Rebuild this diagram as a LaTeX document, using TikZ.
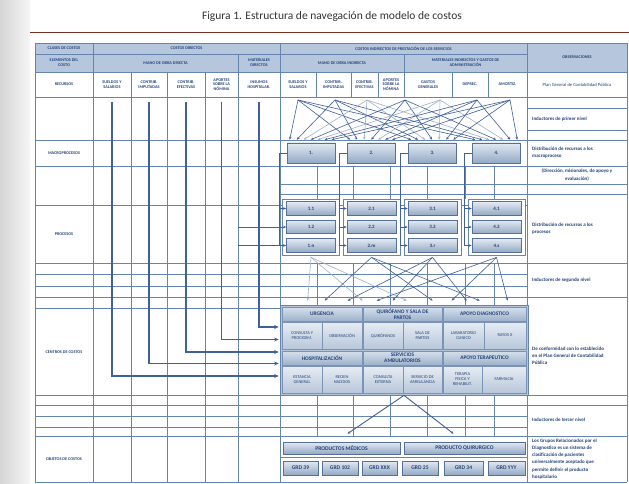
\documentclass[tikz,border=0pt]{standalone}
\usepackage{fontspec}
\setmainfont{Carlito}
\usetikzlibrary{positioning,calc,arrows.meta}

\definecolor{gridc}{HTML}{6485B0}
\definecolor{hdrc}{HTML}{B6C7DD}
\definecolor{txtc}{HTML}{23437A}
\definecolor{linec}{HTML}{3F6098}
\definecolor{lightc}{HTML}{9FB1CB}
\definecolor{boxtop}{HTML}{E2E9F2}
\definecolor{boxbot}{HTML}{93A9C4}
\definecolor{boxdraw}{HTML}{56709A}
\definecolor{framec}{HTML}{B3C4DA}
\definecolor{cellline}{HTML}{7A93B7}
\definecolor{chtop}{HTML}{D7E0EC}
\definecolor{chbot}{HTML}{9DB1CA}
\definecolor{cstop}{HTML}{E6ECF3}
\definecolor{csbot}{HTML}{B8C7DA}
\definecolor{redc}{HTML}{7A2E22}

\newcommand{\hdrfont}{\fontsize{4.2}{4.8}\selectfont\bfseries}
\newcommand{\obsfont}{\fontsize{5}{7.2}\selectfont\bfseries}
\newcommand{\boxfont}{\fontsize{5}{6}\selectfont\bfseries}
\newcommand{\cheadfont}{\fontsize{5.4}{5.6}\selectfont\bfseries}
\newcommand{\csubfont}{\fontsize{4.4}{5}\selectfont}
\newcommand{\objfont}{\fontsize{5.6}{6}\selectfont\bfseries}

\begin{document}
\begin{tikzpicture}[x=1pt, y=-1pt,
  grid/.style={draw=gridc, line width=0.75pt},
  hdrcell/.style={font=\hdrfont, text=txtc, align=center, inner sep=0pt},
  obstext/.style={font=\obsfont, text=txtc, align=left, anchor=west, inner sep=0pt},
  macrobox/.style={draw=boxdraw, line width=0.6pt, top color=boxtop, bottom color=boxbot,
    minimum width=48pt, minimum height=20pt, inner sep=0pt, font=\boxfont, text=txtc},
  procbox/.style={macrobox, minimum width=49pt, minimum height=13.5pt},
  gframe/.style={draw=gridc, fill=white, line width=0.75pt, minimum width=57pt,
    minimum height=56pt, inner sep=0pt},
  fanline/.style={draw=linec, line width=0.6pt, -{Stealth[length=3pt,width=2.6pt]}},
  resline/.style={draw=linec, line width=1.2pt, -{Stealth[length=4.5pt,width=4pt]}},
  con/.style={draw=linec, line width=0.7pt},
  conarr/.style={con, -{Stealth[length=3pt,width=2.6pt]}},
  chead/.style={draw=cellline, line width=0.4pt, top color=chtop, bottom color=chbot,
    inner sep=0pt, font=\cheadfont, text=txtc, align=center},
  csub/.style={chead, top color=cstop, bottom color=csbot, font=\csubfont},
  objbox/.style={draw=boxdraw, line width=0.6pt, top color=boxtop, bottom color=boxbot,
    inner sep=0pt, font=\objfont, text=txtc},
  ]
  \useasboundingbox (0,0) rectangle (629,484);
  \fill[white] (0,0) rectangle (629,484);
  \shade[left color=black!16, right color=black!4] (0,0) rectangle (30,484);

  % title
  \node[font=\fontsize{11.5}{13}\selectfont, text=black!80] (title) at (332,16)
    {Figura 1. Estructura de navegación de modelo de costos};
  \draw[redc, line width=0.9pt] (30,32) -- (629,32);

  % table grid
  \fill[hdrc] (35,43) rectangle (627,72);
  \foreach \y in {43,72,97,140,166,263,297,395,405,436,482}
    \draw[grid] (35,\y) -- (627,\y);
  \draw[grid] (35,54) -- (527,54);
  \foreach \y in {205,274,286,416,427}
    \draw[grid] (35,\y) -- (527,\y);
  \draw[grid] (35,308) -- (280,308);
  \foreach \y in {184,194}
    \draw[grid] (280,\y) -- (627,\y);
  \foreach \y in {108,130}
    \draw[grid] (527,\y) -- (627,\y);
  \foreach \x in {35,93,280,527,627}
    \draw[grid] (\x,43) -- (\x,482);
  \draw[grid] (238,54) -- (238,482);
  \draw[grid] (404,54) -- (404,97);
  \foreach \x in {131,167,205}
    \draw[grid] (\x,72) -- (\x,482);
  \foreach \x in {316,351,378,452,488}
    \draw[grid] (\x,72) -- (\x,97);
  \foreach \x in {317,353,390,427,465,494} {
    \draw[grid] (\x,166) -- (\x,199);
    \draw[grid] (\x,263) -- (\x,305);
    \draw[grid] (\x,395) -- (\x,436);
  }
  \draw[grid] (280,457) -- (527,457);

  % headers
  \node[hdrcell] (h1) at (64,48.5) {CLASES DE COSTOS};
  \node[hdrcell] (h2) at (186.5,48.5) {COSTOS DIRECTOS};
  \node[hdrcell] (h3) at (403.5,48.5) {COSTOS INDIRECTOS DE PRESTACIÓN DE LOS SERVICIOS};
  \node[hdrcell] (h4) at (577,57.5) {OBSERVACIONES};
  \node[hdrcell] (e1) at (64,63) {ELEMENTOS DEL\\COSTO};
  \node[hdrcell] (e2) at (165.5,63) {MANO DE OBRA DIRECTA};
  \node[hdrcell] (e3) at (259,63) {MATERIALES\\DIRECTOS};
  \node[hdrcell] (e4) at (342,63) {MANO DE OBRA INDIRECTA};
  \node[hdrcell] (e5) at (465.5,63) {MATERIALES INDIRECTOS Y GASTOS DE\\ADMINISTRACIÓN};
  \node[hdrcell] (rec) at (64,84.5) {RECURSOS};
  \node[hdrcell] (r1) at (112,84.5) {SUELDOS Y\\SALARIOS};
  \node[hdrcell] (r2) at (149,84.5) {CONTRIB.\\IMPUTADAS};
  \node[hdrcell] (r3) at (186,84.5) {CONTRIB.\\EFECTIVAS};
  \node[hdrcell] (r4) at (221.5,84.5) {APORTES\\SOBRE LA\\NÓMINA};
  \node[hdrcell] (r5) at (259,84.5) {INSUMOS\\HOSPITALAR.};
  \node[hdrcell] (r6) at (298,84.5) {SUELDOS Y\\SALARIOS};
  \node[hdrcell] (r7) at (333.5,84.5) {CONTRIB.\\IMPUTADAS};
  \node[hdrcell] (r8) at (364.5,84.5) {CONTRIB.\\EFECTIVAS};
  \node[hdrcell] (r9) at (391,84.5) {APORTES\\SOBRE LA\\NÓMINA};
  \node[hdrcell] (r10) at (428,84.5) {GASTOS\\GENERALES};
  \node[hdrcell] (r11) at (470,84.5) {DEPREC.};
  \node[hdrcell] (r12) at (507.5,84.5) {AMORTIZ.};
  \node[font=\fontsize{4.6}{5}\selectfont, text=txtc, inner sep=0pt] (o1) at (577,84.5)
    {Plan General de Contabilidad Pública};

  % row labels
  \node[hdrcell] (lmacro) at (64,153) {MACROPROCESOS};
  \node[hdrcell] (lproc) at (64,234) {PROCESOS};
  \node[hdrcell] (lcent) at (64,352) {CENTROS DE COSTOS};
  \node[hdrcell] (lobj) at (64,459) {OBJETOS DE COSTOS};

  % observaciones
  \node[obstext] (o2) at (532,119) {Inductores de primer nivel};
  \node[obstext] (o3) at (532,153) {Distribución de recursos a los\\macroproceso};
  \node[obstext, anchor=center, align=center] (o4) at (577,175)
    {(Dirección, misionales, de apoyo y\\evaluación)};
  \node[obstext] (o5) at (532,229) {Distribución de recursos a los\\procesos};
  \node[obstext] (o6) at (532,280) {Inductores de segundo nivel};
  \node[obstext] (o7) at (532,356)
    {De conformidad con lo establecido\\en el Plan General de Contabilidad\\Pública};
  \node[obstext] (o8) at (532,420) {Inductores de tercer nivel};
  \node[obstext] (o9) at (532,459)
    {Los Grupos Relacionados por el\\Diagnostico es un sistema de\\clasificación de pacientes\\universalmente aceptado que\\permite definir el producto\\hospitalario};

  % macroprocesos
  \node[macrobox] (m1) at (311,153) {1.};
  \node[macrobox] (m2) at (371.5,153) {2.};
  \node[macrobox] (m3) at (432.5,153) {3.};
  \node[macrobox] (m4) at (496.5,153) {4.};

  % procesos
  \foreach \g/\cx/\lastlab in {1/311/n, 2/371.5/m, 3/432.5/r, 4/496.5/s} {
    \node[gframe] (g\g) at (\cx,227) {};
    \node[procbox] (p\g1) at (\cx,208.5) {\g.1};
    \node[procbox] (p\g2) at (\cx,227) {\g.2};
    \node[procbox] (p\g3) at (\cx,245.5) {\g.\lastlab};
    \draw[con] (m\g.west) -| ($(p\g3.west)+(-7,0)$);
    \foreach \k in {1,2,3}
      \draw[conarr] ($(p\g\k.west)+(-7,0)$) -- (p\g\k.west);
  }
  \coordinate (x1) at (238,227);
  \coordinate (x2) at (238,245.5);
  \draw[con] (x1) -- ($(p12.west)+(-7,0)$);
  \draw[con] (x2) -- ($(p13.west)+(-7,0)$);

  % inductores de primer nivel
  \foreach \i/\sx/\col in {1/298/linec, 2/335/linec, 3/367/lightc, 4/405/linec,
                           5/440/lightc, 6/477/linec, 7/510/linec} {
    \coordinate (s\i) at (\sx,100);
    \foreach \g in {1,...,4}
      \draw[fanline, draw=\col] (s\i) -- ($(m\g.north west)+({3+7*(\i-1)},-3)$);
  }

  % centros de costos
  \node[draw=gridc, fill=framec, line width=0.75pt, minimum width=248pt,
    minimum height=90pt, inner sep=0pt] (cc) at (404,350) {};
  \node[chead, minimum width=80pt, minimum height=14pt] (urg) at (322,314) {URGENCIA};
  \node[chead, minimum width=79pt, minimum height=14pt] (qui) at (402.5,314) {QUIRÓFANO Y SALA DE\\PARTOS};
  \node[chead, minimum width=83pt, minimum height=14pt] (adi) at (484.5,314) {APOYO DIAGNOSTICO};
  \node[csub, minimum width=40pt, minimum height=27pt] (urg1) at (302,335.5) {CONSULTA Y\\PROCEDIM.};
  \node[csub, minimum width=40pt, minimum height=27pt] (urg2) at (342,335.5) {OBSERVACIÓN};
  \node[csub, minimum width=40pt, minimum height=27pt] (qui1) at (383,335.5) {QUIRÓFANOS};
  \node[csub, minimum width=39pt, minimum height=27pt] (qui2) at (422.5,335.5) {SALA DE\\PARTOS};
  \node[csub, minimum width=41pt, minimum height=27pt] (adi1) at (463.5,335.5) {LABARATORIO\\CLINICO};
  \node[csub, minimum width=42pt, minimum height=27pt] (adi2) at (505,335.5) {RAYOS X};
  \node[chead, minimum width=80pt, minimum height=14pt] (hos) at (322,358) {HOSPITALIZACIÓN};
  \node[chead, minimum width=79pt, minimum height=14pt] (amb) at (402.5,358) {SERVICIOS\\AMBULATORIOS};
  \node[chead, minimum width=83pt, minimum height=14pt] (ate) at (484.5,358) {APOYO TERAPEUTICO};
  \node[csub, minimum width=40pt, minimum height=27pt] (hos1) at (302,379.5) {ESTANCIA\\GENERAL};
  \node[csub, minimum width=40pt, minimum height=27pt] (hos2) at (342,379.5) {RECIEN\\NACIDOS};
  \node[csub, minimum width=40pt, minimum height=27pt] (amb1) at (383,379.5) {CONSULTA\\EXTERNA};
  \node[csub, minimum width=39pt, minimum height=27pt] (amb2) at (422.5,379.5) {SERVICIO DE\\AMBULANCIA};
  \node[csub, minimum width=39pt, minimum height=27pt] (ate1) at (462.5,379.5) {TERAPIA\\FISICA Y\\REHABILIT.};
  \node[csub, minimum width=44pt, minimum height=27pt] (ate2) at (504,379.5) {FARMACIA};

  % recursos directos
  \foreach \n/\dy in {1/26, 2/13.5, 3/2, 4/-10.5, 5/-23}
    \draw[resline] ($(r\n)+(0,17.5)$) |- ($(cc.west)+(-1,\dy)$);

  % inductores de segundo nivel
  \foreach \g/\ta/\tb/\tc/\col in {1/28/83/127/lightc, 2/45/153/200/linec,
                                   3/68/113/187/linec, 4/97/172/228/linec}
    \foreach \tx in {\ta,\tb,\tc}
      \draw[fanline, draw=\col] ($(g\g.south)+(0,2)$) -- ($(cc.north west)+(\tx,-4)$);

  % objetos de costos
  \node[objbox, minimum width=117pt, minimum height=12pt] (pm) at (341.5,448) {PRODUCTOS MÉDICOS};
  \node[objbox, minimum width=121pt, minimum height=12pt] (pq) at (464.5,448) {PRODUCTO QUIRURGICO};
  \node[objbox, minimum width=35pt, minimum height=14pt] (grd1) at (300.5,468) {GRD 39};
  \node[objbox, minimum width=36pt, minimum height=14pt] (grd2) at (340,468) {GRD 102};
  \node[objbox, minimum width=35pt, minimum height=14pt] (grd3) at (379.5,468) {GRD XXX};
  \node[objbox, minimum width=36pt, minimum height=14pt] (grd4) at (420,468) {GRD 25};
  \node[objbox, minimum width=39pt, minimum height=14pt] (grd5) at (463.5,468) {GRD 34};
  \node[objbox, minimum width=37pt, minimum height=14pt] (grd6) at (506.5,468) {GRD YYY};

  % inductores de tercer nivel
  \draw[fanline, line width=0.9pt] (cc.south) -- ($(pm.north)+(6,-8)$);
  \draw[fanline, line width=0.9pt] (cc.south) -- ($(pq.north)+(-11,-8)$);
\end{tikzpicture}
\end{document}
